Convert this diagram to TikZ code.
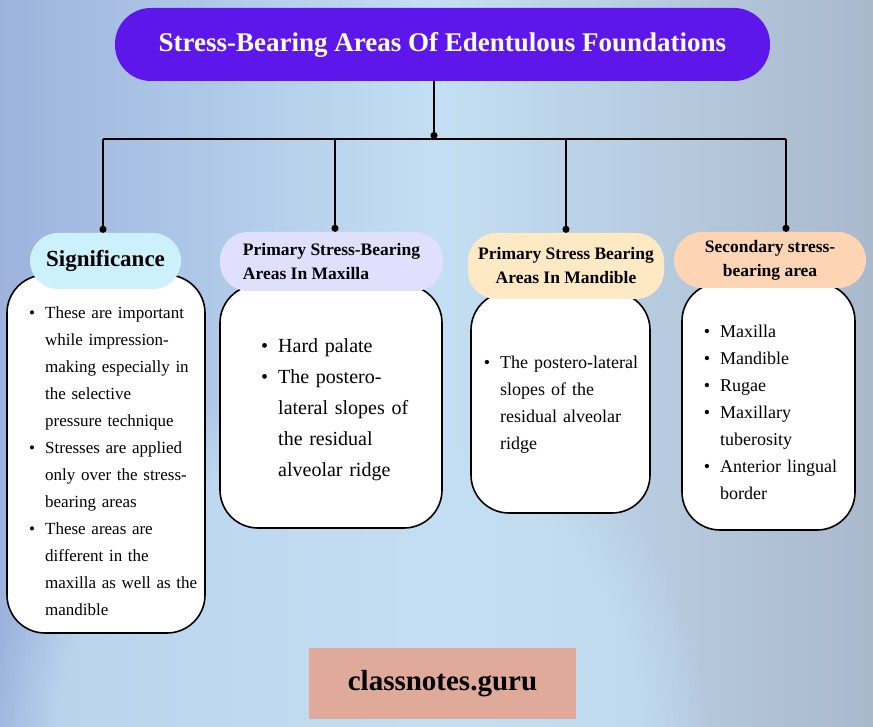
\documentclass[tikz,border=0pt]{standalone}
\usepackage{fontspec}
\setmainfont{Liberation Serif}
\usepackage{enumitem}
\usetikzlibrary{arrows.meta,fadings}

\definecolor{titleviolet}{HTML}{5D17EB}
\definecolor{sigblue}{HTML}{CCF0FC}
\definecolor{maxlilac}{HTML}{E0E0FC}
\definecolor{mandcream}{HTML}{FDE9C4}
\definecolor{secpeach}{HTML}{FDD5B5}
\definecolor{markpink}{HTML}{E0AA9A}
\definecolor{bgleft}{HTML}{9DB3DD}
\definecolor{bgmid}{HTML}{C4DFF3}
\definecolor{bgright}{HTML}{AAB8CC}

\setlist[itemize]{leftmargin=19pt, labelsep=10pt, itemsep=0pt, topsep=0pt, parsep=0pt, partopsep=0pt}

\begin{document}
\begin{tikzpicture}[x=1pt, y=-1pt,
  head/.style={rounded corners=28pt, inner sep=0pt, font=\fontsize{17.5}{24}\selectfont\bfseries},
  card/.style={draw=black, line width=1.6pt, fill=white, rounded corners=38pt, inner sep=0pt},
  link/.style={line width=1.8pt, -{Circle[length=7pt]}},
  list/.style={anchor=north west, inner sep=0pt, text width=#1, align=left}]

\useasboundingbox (0,0) rectangle (873,727);
\shade[left color=bgleft, right color=bgright, middle color=bgmid] (0,0) rectangle (873,727);
\fill[bgmid, opacity=0.7, path fading=circle with fuzzy edge 20 percent] (350,740) circle (360);

\node[fill=titleviolet, rounded corners=36pt, minimum width=655pt, minimum height=73pt, text=white,
  font=\fontsize{27}{32}\selectfont\bfseries] (title) at (442.5,44.5) {Stress-Bearing Areas Of Edentulous Foundations};

% tree
\coordinate (hub) at (434,139);
\coordinate (b1) at (103,139);
\coordinate (b2) at (335,139);
\coordinate (b3) at (566,139);
\coordinate (b4) at (786,139);
\draw[link] (title.south -| hub) -- (hub);
\draw[line width=2.4pt] (b1) -- (b4);

% cards
\node[card, minimum width=198pt, minimum height=358pt] (sigcard) at (106,454) {};
\node[card, minimum width=222pt, minimum height=243pt] (maxcard) at (331,406.5) {};
\node[card, minimum width=179pt, minimum height=221pt] (mandcard) at (560.5,402.5) {};
\node[card, minimum width=173pt, minimum height=247pt] (seccard) at (768.5,406.5) {};

% headers
\node[head, fill=sigblue, minimum width=151pt, minimum height=56pt, font=\fontsize{23}{28}\selectfont\bfseries] (sighead) at (105.5,261) {Significance};
\node[head, fill=maxlilac, minimum width=223pt, minimum height=59pt, align=left] (maxhead) at (331.5,261.5) {Primary Stress-Bearing\\Areas In Maxilla};
\node[head, fill=mandcream, minimum width=196pt, minimum height=66pt, align=center] (mandhead) at (566,266) {Primary Stress Bearing\\Areas In Mandible};
\node[head, fill=secpeach, minimum width=192pt, minimum height=56pt, align=center] (sechead) at (770,260) {Secondary stress-\\bearing area};

\draw[link] (b1) -- (b1 |- sighead.north);
\draw[link] (b2) -- (b2 |- maxhead.north);
\draw[link] (b3) -- (b3 |- mandhead.north);
\draw[link] (b4) -- (b4 |- sechead.north);

% lists
\node[list=185pt, font=\fontsize{17}{27}\selectfont] (sigtext) at (26,291) {\raggedright\begin{itemize}
  \item These are important\newline while impression-\newline making especially in\newline the selective\newline pressure technique
  \item Stresses are applied\newline only over the stress-\newline bearing areas
  \item These areas are\newline different in the\newline maxilla as well as the\newline mandible
\end{itemize}};
\node[list=190pt, font=\fontsize{20}{31}\selectfont] (maxtext) at (254,321) {\raggedright\begin{itemize}[leftmargin=24pt]
  \item Hard palate
  \item The postero-\newline lateral slopes of\newline the residual\newline alveolar ridge
\end{itemize}};
\node[list=175pt, font=\fontsize{18}{27}\selectfont] (mandtext) at (481,341) {\raggedright\begin{itemize}
  \item The postero-lateral\newline slopes of the\newline residual alveolar\newline ridge
\end{itemize}};
\node[list=170pt, font=\fontsize{18}{27}\selectfont] (sectext) at (701,310) {\raggedright\begin{itemize}
  \item Maxilla
  \item Mandible
  \item Rugae
  \item Maxillary\newline tuberosity
  \item Anterior lingual\newline border
\end{itemize}};

\node[fill=markpink, minimum width=267pt, minimum height=71pt, font=\fontsize{29}{34}\selectfont\bfseries] (mark) at (442.5,683.5) {classnotes.guru};
\end{tikzpicture}
\end{document}
